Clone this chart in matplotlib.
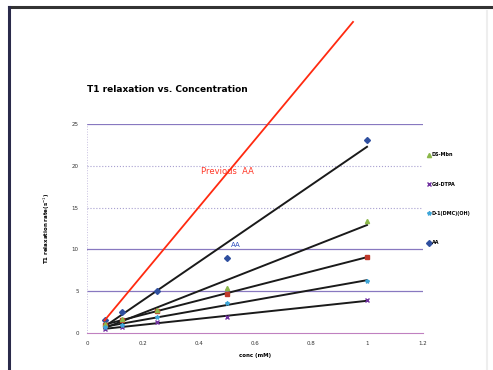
import numpy as np
import matplotlib.pyplot as plt
from matplotlib.lines import Line2D

# T1 relaxation rate vs concentration, with linear trendlines
conc = [0.0625, 0.125, 0.25, 0.5, 1.0]
aa = [1.5, 2.5, 5.0, 9.0, 23.1]
red_sq = [1.0, 1.6, 2.6, 4.7, 9.1]
ds_mbn = [1.1, 1.7, 2.7, 5.4, 13.4]
gd_dtpa = [0.5, 0.7, 1.3, 1.9, 3.9]
d1 = [0.7, 1.0, 1.9, 3.6, 6.2]

prev_conc = [0.0625, 0.95]
prev_aa = [1.5, 37.2]

series = [
    (aa, 'AA', 'D', '#2f4f9f'),
    (red_sq, None, 's', '#c0392b'),
    (ds_mbn, 'DS-Mbn', '^', '#8cb84a'),
    (gd_dtpa, 'Gd-DTPA', 'x', '#7030a0'),
    (d1, 'D-1(DMC)(OH)', '*', '#3ea6d8'),
]

fig = plt.figure(figsize=(4.93, 3.7), dpi=100)
ax = fig.add_axes([0.1765, 0.1, 0.6815, 0.565])

for yv in [5, 10, 25]:
    ax.axhline(yv, color='#8878c0', lw=0.9, zorder=0)
for yv in [15, 20]:
    ax.axhline(yv, color='#a8a0d0', lw=0.8, ls=':', zorder=0)
ax.axvline(0, color='#c8c0e0', lw=0.7, ls=':', zorder=0)

x = np.array(conc)
handles = {}
for vals, lab, m, c in series:
    ax.plot(conc, vals, ls='none', marker=m, color=c, ms=3, mew=1, zorder=3)
    k, b = np.polyfit(x, vals, 1)
    ax.plot([x[0], x[-1]], [k * x[0] + b, k * x[-1] + b], color='#1a1a1a', lw=1.4, zorder=2)
    if lab:
        handles[lab] = Line2D([], [], ls='none', marker=m, color=c, ms=3, mew=1)

ax.plot(prev_conc, prev_aa, color='#ff2a10', lw=1.3, clip_on=False, zorder=4)
ax.text(0.5, 19.3, 'Previous  AA', color='#ff3a2a', fontsize=6, ha='center', va='center')
ax.text(0.53, 10.5, 'AA', color='#3050c0', fontsize=5, ha='center', va='center')

order = ['DS-Mbn', 'Gd-DTPA', 'D-1(DMC)(OH)', 'AA']
ax.legend([handles[k] for k in order], order, loc='upper left', bbox_to_anchor=(1.0, 0.885),
          frameon=False, labelspacing=5.0, handlelength=0.6, handletextpad=0.3,
          prop={'size': 3.5, 'weight': 'bold'})

ax.set_xlim(0, 1.2)
ax.set_ylim(0, 25)
ax.set_xticks([0, 0.2, 0.4, 0.6, 0.8, 1, 1.2])
ax.set_xticklabels(['0', '0.2', '0.4', '0.6', '0.8', '1', '1.2'])
ax.set_yticks([0, 5, 10, 15, 20, 25])
ax.tick_params(length=0, labelsize=4, colors='#333333', pad=6)
for s in ['top', 'right', 'left']:
    ax.spines[s].set_visible(False)
ax.spines['bottom'].set_color('#c080c0')
ax.spines['bottom'].set_linewidth(0.8)

ax.set_xlabel('conc (mM)', fontsize=4, fontweight='bold', labelpad=5)
ax.set_ylabel('T1 relaxation rate(s$^{-1}$)', fontsize=4, fontweight='bold', labelpad=14)

fig.text(0.176, 0.757, 'T1 relaxation vs. Concentration', fontsize=6.5, fontweight='bold',
         ha='left', va='center')

# slide frame edges
fig.add_artist(Line2D([0.018, 1.0], [0.981, 0.981], color='#333333', lw=2.2))
fig.add_artist(Line2D([0.018, 0.018], [0.0, 0.981], color='#2a2a4a', lw=2.2))
fig.add_artist(Line2D([0.988, 0.988], [0.0, 0.97], color='#eeeeee', lw=1.5))

fig.savefig('out.png', dpi=100)
